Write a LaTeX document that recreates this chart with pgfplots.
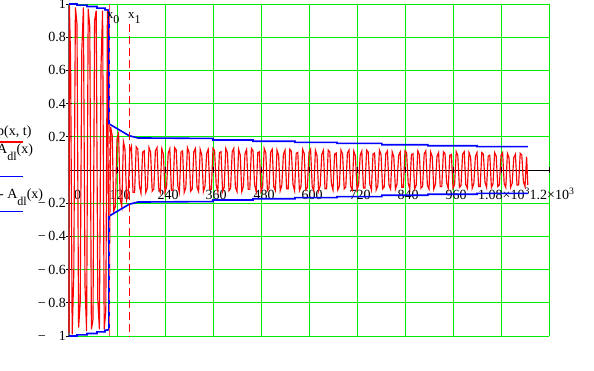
\documentclass[border=0pt]{standalone}
\usepackage{pgfplots}
\pgfplotsset{compat=1.18}
\usepackage{fontspec}
\setmainfont{Liberation Serif}
\usetikzlibrary{calc}
\definecolor{gridg}{RGB}{0,235,0}
\definecolor{mcred}{RGB}{255,0,0}
\definecolor{mcblue}{RGB}{0,0,255}
\newcommand{\fz}{\fontsize{14bp}{16bp}\selectfont}
\newcommand{\neglab}[1]{\makebox[28bp]{\char"2212\hfill #1}}
\begin{document}
\begin{tikzpicture}
\begin{axis}[
  scale only axis, width=480bp, height=332bp,
  xmin=0, xmax=1200, ymin=-1, ymax=1,
  axis x line=middle, axis y line=left,
  axis line style={-},
  x axis line style={black, line width=0.8bp},
  y axis line style={black!60, line width=1.8bp},
  hide obscured x ticks=false, hide obscured y ticks=false,
  xtick={0,120,240,360,480,600,720,840,960,1080,1200},
  xticklabels={{\hspace*{11bp}0},120,240,360,480,600,720,840,960,{1.08×10\textsuperscript{3}},{1.2×10\textsuperscript{3}}},
  ytick={-1,-0.8,-0.6,-0.4,-0.2,0.2,0.4,0.6,0.8,1},
  yticklabels={{\neglab{1}},{\neglab{0.8}},{\neglab{0.6}},{\neglab{0.4}},{\neglab{0.2}},0.2,0.4,0.6,0.8,1},
  grid=major, grid style={gridg, line width=0.9bp},
  major tick length=6bp, tick align=center, tick style={black, line width=0.6bp},
  tick label style={font=\fz},
  xticklabel style={anchor=base, inner sep=0pt, yshift=-26.5bp, xshift=3bp},
  yticklabel style={anchor=east, inner sep=0pt, xshift=0bp},
  clip=false,
]
% p(x,t)
\addplot[mcred, line width=1.15bp] coordinates {
(0,-0.98) (1,0.99) (4,0.66) (8,-0.99) (12,-0.62)
(16,0.98) (20,0.88) (24,-0.95) (28,-0.8)
(32,0.72) (36,0.98) (40,-0.7) (44,-0.97)
(48,0.97) (52,0.86) (56,-0.96) (60,-0.9)
(64,0.9) (68,0.96) (72,-0.78) (76,-0.96)
(80,0.62) (84,0.96) (88,-0.96) (92,-0.85)
(96,0.96) (100,-0.95)
(104,0.26) (108,0.208) (112,-0.247) (116,-0.221)
(120,0.187) (124,0.22) (128,-0.176) (132,-0.22)
(136,0.171) (140,0.126) (144,-0.18) (148,-0.135)
(152,0.113) (156,0.143) (160,-0.135) (164,-0.135)
(168,0.14) (172,0.126) (176,-0.098) (180,-0.14)
(184,0.108) (188,0.115) (192,-0.135) (196,-0.108)
(200,0.135) (204,0.108) (208,-0.128) (212,-0.115)
(216,0.115) (220,0.135) (224,-0.108) (228,-0.135)
(232,0.128) (236,0.095) (240,-0.135) (244,-0.101)
(248,0.101) (252,0.128) (256,-0.122) (260,-0.122)
(264,0.135) (268,0.122) (272,-0.095) (276,-0.135)
(280,0.108) (284,0.115) (288,-0.135) (292,-0.108)
(296,0.135) (300,0.108) (304,-0.128) (308,-0.115)
(312,0.11) (316,0.13) (320,-0.104) (324,-0.13)
(328,0.124) (332,0.091) (336,-0.13) (340,-0.098)
(344,0.098) (348,0.124) (352,-0.117) (356,-0.117)
(360,0.13) (364,0.117) (368,-0.091) (372,-0.13)
(376,0.104) (380,0.11) (384,-0.13) (388,-0.104)
(392,0.13) (396,0.104) (400,-0.124) (404,-0.11)
(408,0.11) (412,0.13) (416,-0.104) (420,-0.13)
(424,0.124) (428,0.091) (432,-0.13) (436,-0.098)
(440,0.098) (444,0.124) (448,-0.117) (452,-0.117)
(456,0.13) (460,0.117) (464,-0.091) (468,-0.13)
(472,0.104) (476,0.11) (480,-0.13) (484,-0.104)
(488,0.13) (492,0.104) (496,-0.124) (500,-0.11)
(504,0.106) (508,0.125) (512,-0.1) (516,-0.125)
(520,0.119) (524,0.088) (528,-0.125) (532,-0.094)
(536,0.094) (540,0.119) (544,-0.113) (548,-0.113)
(552,0.125) (556,0.113) (560,-0.088) (564,-0.125)
(568,0.1) (572,0.106) (576,-0.125) (580,-0.1)
(584,0.125) (588,0.1) (592,-0.119) (596,-0.106)
(600,0.106) (604,0.125) (608,-0.1) (612,-0.125)
(616,0.119) (620,0.088) (624,-0.125) (628,-0.094)
(632,0.094) (636,0.119) (640,-0.113) (644,-0.113)
(648,0.12) (652,0.108) (656,-0.084) (660,-0.12)
(664,0.096) (668,0.102) (672,-0.12) (676,-0.096)
(680,0.12) (684,0.096) (688,-0.114) (692,-0.102)
(696,0.102) (700,0.12) (704,-0.096) (708,-0.12)
(712,0.114) (716,0.084) (720,-0.12) (724,-0.09)
(728,0.09) (732,0.114) (736,-0.108) (740,-0.108)
(744,0.12) (748,0.108) (752,-0.084) (756,-0.12)
(760,0.096) (764,0.102) (768,-0.12) (772,-0.096)
(776,0.12) (780,0.096) (784,-0.114) (788,-0.102)
(792,0.098) (796,0.115) (800,-0.092) (804,-0.115)
(808,0.109) (812,0.081) (816,-0.115) (820,-0.086)
(824,0.086) (828,0.109) (832,-0.104) (836,-0.104)
(840,0.115) (844,0.104) (848,-0.081) (852,-0.115)
(856,0.092) (860,0.098) (864,-0.115) (868,-0.092)
(872,0.115) (876,0.092) (880,-0.109) (884,-0.098)
(888,0.098) (892,0.115) (896,-0.092) (900,-0.115)
(904,0.109) (908,0.081) (912,-0.115) (916,-0.086)
(920,0.083) (924,0.105) (928,-0.099) (932,-0.099)
(936,0.11) (940,0.099) (944,-0.077) (948,-0.11)
(952,0.088) (956,0.094) (960,-0.11) (964,-0.088)
(968,0.11) (972,0.088) (976,-0.105) (980,-0.094)
(984,0.094) (988,0.11) (992,-0.088) (996,-0.11)
(1000,0.105) (1004,0.077) (1008,-0.11) (1012,-0.083)
(1016,0.083) (1020,0.105) (1024,-0.099) (1028,-0.099)
(1032,0.105) (1036,0.095) (1040,-0.074) (1044,-0.105)
(1048,0.084) (1052,0.089) (1056,-0.105) (1060,-0.084)
(1064,0.105) (1068,0.084) (1072,-0.1) (1076,-0.089)
(1080,0.089) (1084,0.105) (1088,-0.084) (1092,-0.105)
(1096,0.1) (1100,0.074) (1104,-0.105) (1108,-0.079)
(1112,0.075) (1116,0.095) (1120,-0.09) (1124,-0.09)
(1128,0.1) (1132,0.09) (1136,-0.07) (1140,-0.1)
(1144,0.08) (1147,-0.09)
};
% A_dl(x)
\addplot[mcblue, line width=1.6bp] coordinates {
(0,1) (20,1) (20,0.993) (45,0.993) (45,0.985) (70,0.985) (70,0.975) (90,0.975) (90,0.965) (100,0.963)
(100,0.278) (150,0.207) (172,0.193) (360,0.19) (360,0.181) (460,0.181) (460,0.173) (565,0.173)
(565,0.166) (670,0.166) (670,0.16) (782,0.16) (782,0.152) (897,0.152) (897,0.146) (1020,0.146)
(1020,0.141) (1147,0.141)
};
% -A_dl(x)
\addplot[mcblue, line width=1.6bp] coordinates {
(0,-1) (20,-1) (20,-0.993) (45,-0.993) (45,-0.985) (70,-0.985) (70,-0.975) (90,-0.975) (90,-0.965) (100,-0.963)
(100,-0.278) (150,-0.207) (172,-0.193) (360,-0.19) (360,-0.181) (460,-0.181) (460,-0.173) (565,-0.173)
(565,-0.166) (670,-0.166) (670,-0.16) (782,-0.16) (782,-0.152) (897,-0.152) (897,-0.146) (1020,-0.146)
(1020,-0.141) (1147,-0.141)
};
% markers x0, x1
\addplot[mcred!70, line width=1bp, dash pattern=on 8bp off 4bp] coordinates {(100,1) (100,-1)};
\addplot[mcred, line width=1bp, dash pattern=on 8bp off 4bp] coordinates {(150,0.88) (150,-1)};
\coordinate (O1) at (axis cs:0,-1);
\coordinate (O2) at (axis cs:1200,1);
\end{axis}
% marker labels
\node[anchor=base west, inner sep=0pt, font=\fontsize{13bp}{15bp}\selectfont] at ($(O1)+(37.7bp,317.7bp)$) {x\raisebox{-5bp}{\fontsize{12bp}{12bp}\selectfont 0}};
\node[anchor=base west, inner sep=0pt, font=\fontsize{13bp}{15bp}\selectfont] at ($(O1)+(59bp,317.7bp)$) {x\raisebox{-5bp}{\fontsize{12bp}{12bp}\selectfont 1}};
% legend
\node[anchor=base west, inner sep=0pt, font=\fz] at ($(O1)+(-72bp,200bp)$) {p(x, t)};
\draw[mcred, line width=1.6bp] ($(O1)+(-75bp,193.7bp)$) -- ($(O1)+(-46bp,193.7bp)$);
\node[anchor=base west, inner sep=0pt, font=\fz] at ($(O1)+(-72bp,182bp)$) {A\raisebox{-6.5bp}{\fontsize{12bp}{12bp}\selectfont dl}(x)};
\draw[mcblue, line width=1.6bp] ($(O1)+(-75bp,159.3bp)$) -- ($(O1)+(-46bp,159.3bp)$);
\node[anchor=base west, inner sep=0pt, font=\fz] at ($(O1)+(-70bp,137bp)$) {- A\raisebox{-6.5bp}{\fontsize{12bp}{12bp}\selectfont dl}(x)};
\draw[mcblue, line width=1.6bp] ($(O1)+(-75bp,124.3bp)$) -- ($(O1)+(-46bp,124.3bp)$);
\pgfresetboundingbox
\path[use as bounding box] ($(O1)+(-69bp,-35bp)$) rectangle ($(O2)+(45bp,4bp)$);
\end{tikzpicture}
\end{document}
